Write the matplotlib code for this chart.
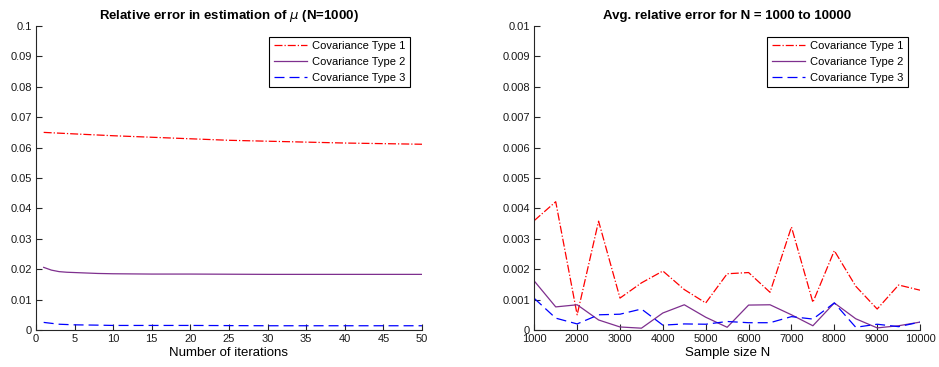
import matplotlib
matplotlib.use("Agg")
import matplotlib.pyplot as plt
import matplotlib.ticker as mticker

plt.rcParams["font.family"] = ["Liberation Sans", "DejaVu Sans"]
plt.rcParams["mathtext.fontset"] = "dejavusans"

labels = ["Covariance Type 1", "Covariance Type 2", "Covariance Type 3"]

# left panel: relative error vs. iterations (N=1000)
iters_1 = [1, 5, 10, 15, 20, 25, 30, 35, 40, 45, 50]
err_type1 = [0.0650, 0.0645, 0.0639, 0.0634, 0.0629, 0.0624, 0.0621, 0.0618, 0.0615, 0.0613, 0.0611]
iters_2 = [1, 2, 3, 4, 6, 8, 10, 15, 20, 30, 40, 50]
err_type2 = [0.0206, 0.0197, 0.0192, 0.0190, 0.0188, 0.0186, 0.0185, 0.0184, 0.0184, 0.0183, 0.0183, 0.0183]
iters_3 = [1, 2, 3, 5, 8, 10, 20, 30, 40, 50]
err_type3 = [0.0025, 0.0022, 0.0019, 0.0017, 0.0016, 0.0015, 0.0015, 0.0014, 0.0014, 0.0014]

# right panel: avg. relative error vs. sample size
sizes = [1000, 1500, 2000, 2500, 3000, 3500, 4000, 4500, 5000, 5500,
         6000, 6500, 7000, 7500, 8000, 8500, 9000, 9500, 10000]
avg_type1 = [0.00360, 0.00422, 0.00050, 0.00358, 0.00105, 0.00155, 0.00194, 0.00133, 0.00089, 0.00185,
             0.00189, 0.00124, 0.00339, 0.00091, 0.00261, 0.00144, 0.00069, 0.00148, 0.00131]
avg_type2 = [0.00161, 0.00076, 0.00083, 0.00033, 0.00010, 0.00006, 0.00056, 0.00083, 0.00042, 0.00009,
             0.00082, 0.00083, 0.00050, 0.00014, 0.00089, 0.00037, 0.00007, 0.00014, 0.00026]
avg_type3 = [0.00104, 0.00039, 0.00020, 0.00050, 0.00052, 0.00069, 0.00016, 0.00020, 0.00019, 0.00028,
             0.00024, 0.00024, 0.00044, 0.00036, 0.00089, 0.00009, 0.00019, 0.00011, 0.00026]

c_red = "#ff0000"
c_purple = "#7e2f8e"
c_blue = "#0000ff"
dashed = (0, (8, 4))

fig = plt.figure(figsize=(9.39, 3.67), dpi=100)
ax1 = fig.add_axes([0.0383, 0.1008, 0.4111, 0.8284])
ax2 = fig.add_axes([0.5690, 0.1008, 0.4108, 0.8284])

ax1.plot(iters_1, err_type1, color=c_red, lw=0.9, linestyle="-.", label=labels[0])
ax1.plot(iters_2, err_type2, color=c_purple, lw=0.9, linestyle="-", label=labels[1])
ax1.plot(iters_3, err_type3, color=c_blue, lw=0.9, linestyle=dashed, label=labels[2])

ax2.plot(sizes, avg_type1, color=c_red, lw=0.9, linestyle="-.", label=labels[0])
ax2.plot(sizes, avg_type2, color=c_purple, lw=0.9, linestyle="-", label=labels[1])
ax2.plot(sizes, avg_type3, color=c_blue, lw=0.9, linestyle=dashed, label=labels[2])

ax1.set_xlim(0, 50)
ax1.set_ylim(0, 0.1)
ax1.set_xticks(range(0, 51, 5))
ax1.set_yticks([i / 100 for i in range(11)])
ax1.set_title(r"Relative error in estimation of $\mu$ (N=1000)", fontsize=9.5, fontweight="bold", pad=5)
ax1.set_xlabel("Number of iterations", fontsize=9.5, labelpad=2)

ax2.set_xlim(1000, 10000)
ax2.set_ylim(0, 0.01)
ax2.set_xticks(range(1000, 10001, 1000))
ax2.set_yticks([i / 1000 for i in range(11)])
ax2.set_title("Avg. relative error for N = 1000 to 10000", fontsize=9.5, fontweight="bold", pad=5)
ax2.set_xlabel("Sample size N", fontsize=9.5, labelpad=2)

for ax in (ax1, ax2):
    ax.spines["top"].set_visible(False)
    ax.spines["right"].set_visible(False)
    for s in ("left", "bottom"):
        ax.spines[s].set_color("#262626")
        ax.spines[s].set_linewidth(0.8)
    ax.tick_params(direction="in", length=4, width=0.8, labelsize=8,
                   color="#262626", labelcolor="#1a1a1a", pad=3)
    ax.xaxis.set_major_formatter(mticker.FormatStrFormatter("%g"))
    ax.yaxis.set_major_formatter(mticker.FormatStrFormatter("%g"))
    leg = ax.legend(loc="upper right", bbox_to_anchor=(0.969, 0.964), borderaxespad=0,
                    fontsize=8, frameon=True, fancybox=False, framealpha=1,
                    handlelength=3.0, handletextpad=0.45, labelspacing=0.52,
                    borderpad=0.4)
    leg.get_frame().set_edgecolor("black")
    leg.get_frame().set_linewidth(0.8)

fig.savefig("out.png", dpi=100)
